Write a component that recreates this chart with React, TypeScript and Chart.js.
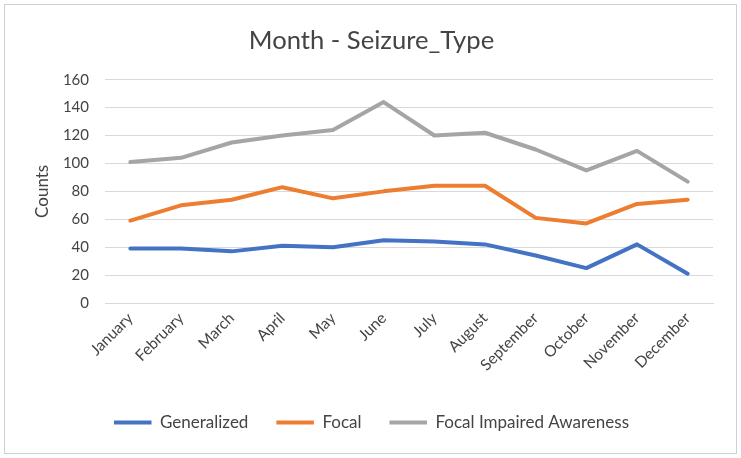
import React, { useEffect, useRef } from "react";
import { Chart, registerables } from "chart.js";

Chart.register(...registerables);

const months = [
  "January", "February", "March", "April", "May", "June",
  "July", "August", "September", "October", "November", "December",
];
const generalized = [39, 39, 37, 41, 40, 45, 44, 42, 34, 25, 42, 21];
const focal = [59, 70, 74, 83, 75, 80, 84, 84, 61, 57, 71, 74];
const focalImpairedAwareness = [101, 104, 115, 120, 124, 144, 120, 122, 110, 95, 109, 87];

const FONT = "Lato, 'Open Sans', sans-serif";
const TEXT = "#444444";
const GRID = "#d9d9d9";

// White card with a thin grey frame behind the chart
const framePlugin = {
  id: "frame",
  beforeDraw(chart: Chart) {
    const { ctx, width, height } = chart;
    ctx.save();
    ctx.fillStyle = "#ffffff";
    ctx.fillRect(0, 0, width, height);
    ctx.strokeStyle = "#d0d0d0";
    ctx.lineWidth = 1;
    ctx.strokeRect(4.5, 4.5, width - 9, height - 9);
    ctx.restore();
  },
};

export default function App() {
  const ref = useRef<HTMLCanvasElement | null>(null);

  useEffect(() => {
    if (!ref.current) return;
    const chart = new Chart(ref.current, {
      type: "line",
      data: {
        labels: months,
        datasets: [
          { label: "Generalized", data: generalized, borderColor: "#4472C4", backgroundColor: "#4472C4" },
          { label: "Focal", data: focal, borderColor: "#ED7D31", backgroundColor: "#ED7D31" },
          { label: "Focal Impaired Awareness", data: focalImpairedAwareness, borderColor: "#A5A5A5", backgroundColor: "#A5A5A5" },
        ],
      },
      options: {
        responsive: false,
        animation: false,
        devicePixelRatio: 1,
        elements: {
          line: { borderWidth: 4, tension: 0, borderCapStyle: "round", borderJoinStyle: "round" },
          point: { radius: 0, hoverRadius: 0 },
        },
        layout: { padding: { left: 30, right: 28, top: 0, bottom: 17 } },
        plugins: {
          title: {
            display: true,
            text: "Month - Seizure_Type",
            color: TEXT,
            font: { family: FONT, size: 25.6, weight: "normal" },
            padding: { top: 25, bottom: 24 },
          },
          legend: {
            position: "bottom",
            labels: {
              color: TEXT,
              font: { family: FONT, size: 17 },
              boxWidth: 37.5,
              boxHeight: 4,
              padding: 28,
              generateLabels(chart: Chart) {
                return chart.data.datasets.map((ds: any, i: number) => ({
                  text: ds.label,
                  fillStyle: ds.borderColor,
                  strokeStyle: ds.borderColor,
                  lineWidth: 0,
                  hidden: false,
                  datasetIndex: i,
                  fontColor: TEXT,
                }));
              },
            },
          },
          tooltip: { enabled: false },
        },
        scales: {
          x: {
            offset: true,
            grid: { display: false, drawTicks: false },
            border: { display: true, color: GRID, width: 1 },
            ticks: {
              color: TEXT,
              font: { family: FONT, size: 15.5 },
              maxRotation: 45,
              minRotation: 45,
              padding: 6,
              autoSkip: false,
            },
            afterFit(scale: any) {
              scale.height = 83;
            },
          },
          y: {
            min: 0,
            max: 160,
            grid: { color: GRID, lineWidth: 1, drawTicks: false },
            border: { display: false },
            ticks: {
              stepSize: 20,
              color: TEXT,
              font: { family: FONT, size: 15 },
              padding: 16,
            },
            title: {
              display: true,
              text: "Counts",
              color: TEXT,
              font: { family: FONT, size: 17 },
              padding: { top: 2, bottom: 0 },
            },
            afterFit(scale: any) {
              scale.width = 75;
            },
          },
        },
      },
      plugins: [framePlugin],
    } as any);
    return () => chart.destroy();
  }, []);

  return (
    <div style={{ position: "fixed", left: 0, top: 0, width: 741, height: 458 }}>
      <canvas ref={ref} width={741} height={458} style={{ display: "block" }} />
    </div>
  );
}
